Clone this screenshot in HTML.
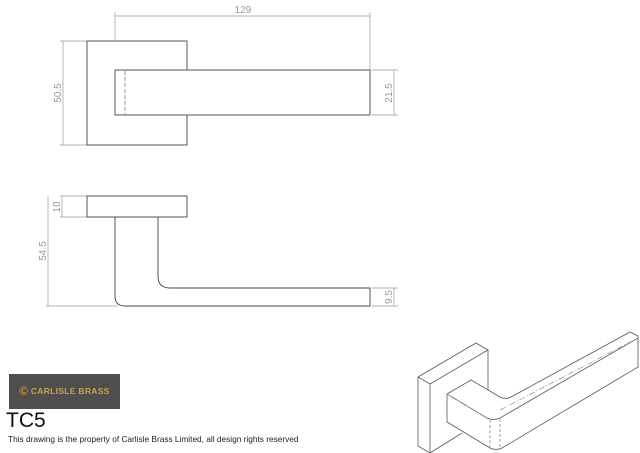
<!DOCTYPE html>
<html><head><style>
body{margin:0;background:#fff;width:640px;height:453px;overflow:hidden;position:relative;font-family:"Liberation Sans",sans-serif}
.logo{position:absolute;left:9px;top:374px;width:111px;height:35px;background:#4f4e4c;color:#c9a24e;font-size:8.5px;font-weight:bold;letter-spacing:.3px;line-height:35px;text-align:center}
.tc{position:absolute;left:6px;top:409px;font-size:21px;color:#111}
.foot{position:absolute;left:8px;top:434px;font-size:8.3px;color:#222;white-space:nowrap}
</style></head><body>
<svg width="640" height="453" style="position:absolute;left:0;top:0" font-family="Liberation Sans" font-size="10" fill="none">
<g stroke="#999" stroke-width="0.7">
<line x1="115" y1="12" x2="115" y2="70"/><line x1="370" y1="12" x2="370" y2="70"/>
<line x1="115" y1="16" x2="370" y2="16"/>
<line x1="60" y1="41" x2="87" y2="41"/><line x1="60" y1="145" x2="87" y2="145"/>
<line x1="63" y1="41" x2="63" y2="145"/>
<line x1="372" y1="70" x2="398" y2="70"/><line x1="372" y1="115" x2="398" y2="115"/>
<line x1="394" y1="70" x2="394" y2="115"/>
<line x1="60" y1="196" x2="87" y2="196"/><line x1="60" y1="217" x2="87" y2="217"/>
<line x1="62" y1="196" x2="62" y2="217"/>
<line x1="46" y1="306" x2="118" y2="306"/><line x1="48" y1="196" x2="48" y2="306"/>
<line x1="372" y1="288" x2="398" y2="288"/><line x1="372" y1="306" x2="398" y2="306"/>
<line x1="394" y1="288" x2="394" y2="306"/>
</g>
<g fill="#999" font-size="10">
<text x="243" y="13" text-anchor="middle">129</text>
<text transform="translate(61,93) rotate(-90)" text-anchor="middle">50.5</text>
<text transform="translate(392,93) rotate(-90)" text-anchor="middle">21.5</text>
<text transform="translate(60,207) rotate(-90)" text-anchor="middle">10</text>
<text transform="translate(46,251) rotate(-90)" text-anchor="middle">54.5</text>
<text transform="translate(392,297) rotate(-90)" text-anchor="middle">9.5</text>
</g>
<g stroke="#444" stroke-width="0.9">
<rect x="87" y="41" width="100" height="104" fill="#fff"/>
<rect x="115" y="70" width="255" height="45" fill="#fff"/>
<line x1="125" y1="71" x2="125" y2="114" stroke-dasharray="4,2" stroke="#888"/>
<rect x="87" y="196" width="100" height="21"/>
<path d="M115 217 V296 Q115 306 125 306 H370 V288 H170 Q158 288 158 276 V217"/>
</g>
<g stroke="#555" stroke-width="0.8">
<path d="M418 377 L476 343 L488 350 L430 384 Z M418 377 V446 L430 453 V384 M430 453 L462 433 M488 350 V392"/>
<path d="M447 394 L471 380 L500 397 Q505 400 511 397 L630 332 L638 336 V367 L502 448 Q496 451 490 448 L447 422 Z" fill="#fff"/>
<path d="M447 394 L487 418 Q493 421 500 418 L638 338"/>
<path d="M490 420 V448 M500 419 V448" stroke-dasharray="3,2" stroke="#888"/>
<path d="M447 394 L487 418 M500 410 L638 338" stroke-dasharray="6,2,1,2" stroke="#999"/>
</g>
</svg>
<div class="logo">&#x24B8; CARLISLE BRASS</div>
<div class="tc">TC5</div>
<div class="foot">This drawing is the property of Carlisle Brass Limited, all design rights reserved</div>
</body></html>
